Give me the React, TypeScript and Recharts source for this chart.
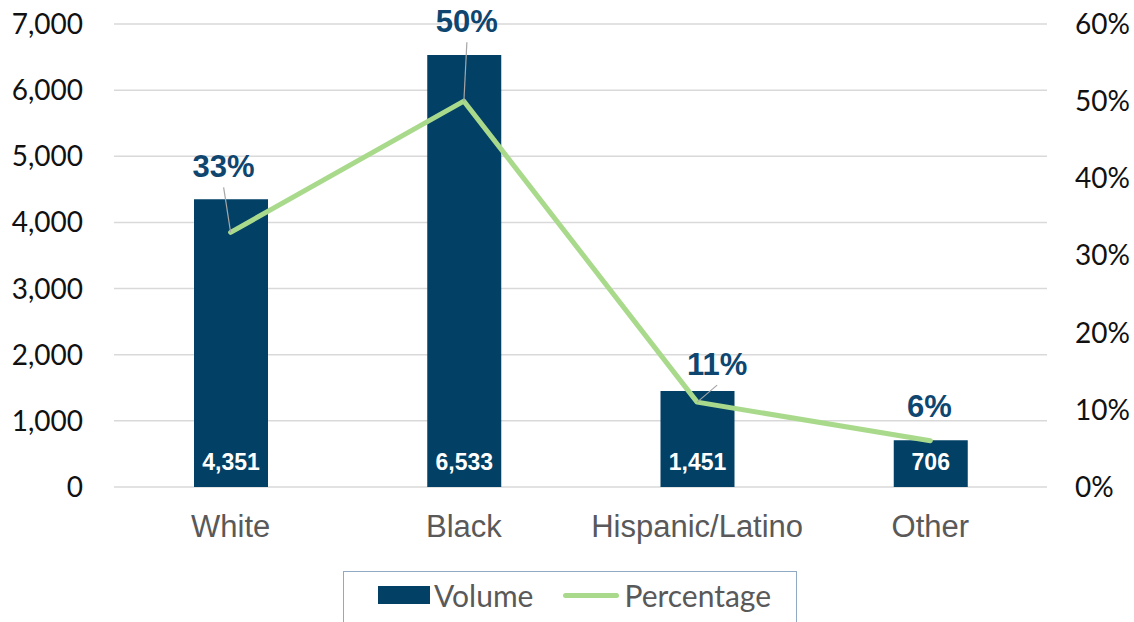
import { Bar, ComposedChart, CartesianGrid, LabelList, Legend, Line, XAxis, YAxis } from 'recharts'

const categories = ['White', 'Black', 'Hispanic/Latino', 'Other']
const volume = [4351, 6533, 1451, 706]
const percentage = [33, 50, 11, 6]
const volumeTicks = [0, 1000, 2000, 3000, 4000, 5000, 6000, 7000]
const pctTicks = [0, 10, 20, 30, 40, 50, 60]

// label placement relative to the line point: [dx, dy, leader line?]
const PCT_LABEL_OFFSETS: [number, number, boolean][] = [
  [-7, -66, true],
  [3, -80, true],
  [20, -38, true],
  [-1, -35, false],
]

const NAVY = '#024066'
const GREEN = '#A9DA8C'
const LABEL_BLUE = '#0F4670'
const GRAY_TEXT = '#595959'
const TICK_FONT = 'Lato, "Open Sans", sans-serif'
const ARIAL = '"Liberation Sans", Arial, sans-serif'

const data = categories.map((c, i) => ({ name: c, volume: volume[i], pct: percentage[i] }))

function VolumeLabel(props: any) {
  const { x, y, width, height, value } = props
  return (
    <text
      x={x + width / 2}
      y={y + height - 17}
      textAnchor="middle"
      fill="#fff"
      fontFamily={ARIAL}
      fontWeight="bold"
      fontSize={23}
    >
      {Number(value).toLocaleString('en-US')}
    </text>
  )
}

function PctLabel(props: any) {
  const { x, y, value, index } = props
  const [dx, dy, leader] = PCT_LABEL_OFFSETS[index] ?? [0, -30, false]
  const cx = x + dx
  const cy = y + dy
  return (
    <g>
      {leader && <line x1={cx} y1={cy + 21} x2={x} y2={y} stroke="#A6A6A6" strokeWidth={1.2} />}
      <text
        x={cx}
        y={cy + 11}
        textAnchor="middle"
        fill={LABEL_BLUE}
        fontFamily={ARIAL}
        fontWeight="bold"
        fontSize={31}
      >
        {value}%
      </text>
    </g>
  )
}

function LegendBox() {
  return (
    <div
      style={{
        boxSizing: 'border-box',
        width: 454,
        height: 60,
        border: '1.5px solid #90AAC6',
        display: 'flex',
        alignItems: 'center',
        paddingLeft: 34,
        paddingBottom: 12,
        fontFamily: TICK_FONT,
        fontSize: 30,
        color: GRAY_TEXT,
      }}
    >
      <span style={{ display: 'inline-block', width: 52, height: 18, background: NAVY, marginRight: 4 }} />
      <span>Volume</span>
      <span
        style={{
          display: 'inline-block',
          width: 56,
          height: 5,
          borderRadius: 3,
          background: GREEN,
          marginLeft: 30,
          marginRight: 5,
        }}
      />
      <span>Percentage</span>
    </div>
  )
}

export default function App() {
  return (
    <div style={{ position: 'absolute', left: 0, top: 0, background: '#fff' }}>
      <ComposedChart
        width={1134}
        height={622}
        data={data}
        margin={{ top: 24, right: 0, bottom: 0, left: 0 }}
      >
        <CartesianGrid yAxisId="left" vertical={false} stroke="#D9D9D9" strokeWidth={1.5} />
        <XAxis
          dataKey="name"
          axisLine={false}
          tickLine={false}
          tickSize={0}
          tickMargin={28}
          height={135}
          interval={0}
          tick={{ fill: GRAY_TEXT, fontSize: 31, fontFamily: ARIAL }}
        />
        <YAxis
          yAxisId="left"
          width={114}
          domain={[0, 7000]}
          ticks={volumeTicks}
          axisLine={false}
          tickLine={false}
          tickSize={0}
          tickMargin={31}
          tickFormatter={(v: number) => v.toLocaleString('en-US')}
          tick={{ fill: '#111', fontSize: 28, fontFamily: TICK_FONT }}
        />
        <YAxis
          yAxisId="right"
          orientation="right"
          width={87}
          domain={[0, 60]}
          ticks={pctTicks}
          axisLine={false}
          tickLine={false}
          tickSize={0}
          tickMargin={28}
          tickFormatter={(v: number) => `${v}%`}
          tick={{ fill: '#111', fontSize: 28, fontFamily: TICK_FONT }}
        />
        <Legend
          layout="horizontal"
          verticalAlign="middle"
          align="center"
          wrapperStyle={{ left: 343, top: 571, width: 454 }}
          content={() => <LegendBox />}
        />
        <Bar yAxisId="left" dataKey="volume" name="Volume" fill={NAVY} barSize={74} isAnimationActive={false}>
          <LabelList dataKey="volume" content={VolumeLabel} />
        </Bar>
        <Line
          yAxisId="right"
          dataKey="pct"
          name="Percentage"
          stroke={GREEN}
          strokeWidth={5}
          strokeLinecap="round"
          strokeLinejoin="round"
          dot={false}
          activeDot={false}
          type="linear"
          isAnimationActive={false}
        >
          <LabelList dataKey="pct" content={PctLabel} />
        </Line>
      </ComposedChart>
    </div>
  )
}
